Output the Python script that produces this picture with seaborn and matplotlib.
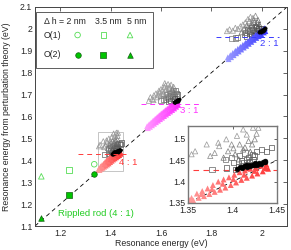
import numpy as np
import pandas as pd
import matplotlib as mpl
mpl.use('Agg')
import matplotlib.pyplot as plt
from matplotlib.patches import Rectangle
import seaborn as sns

sns.set_style('white')
plt.rcParams['font.family'] = ['Liberation Sans', 'DejaVu Sans']
plt.rcParams['font.size'] = 6.3

# ---- data ----
# 4:1 rods (also shown in the inset)
r41_x = [1.354, 1.360, 1.366, 1.372, 1.378, 1.384, 1.390, 1.396, 1.402, 1.408, 1.414, 1.420, 1.426, 1.432, 1.438,
         1.356, 1.362, 1.368, 1.374, 1.380, 1.386, 1.392, 1.398, 1.404, 1.410, 1.416, 1.422, 1.428, 1.434, 1.440,
         1.365, 1.377, 1.389, 1.401, 1.413, 1.425, 1.437, 1.352]
r41_y = [1.362, 1.372, 1.378, 1.384, 1.392, 1.400, 1.405, 1.410, 1.416, 1.422, 1.426, 1.430, 1.433, 1.437, 1.440,
         1.356, 1.362, 1.366, 1.371, 1.376, 1.381, 1.386, 1.392, 1.398, 1.404, 1.409, 1.414, 1.419, 1.424, 1.430,
         1.371, 1.383, 1.395, 1.406, 1.416, 1.425, 1.434, 1.357]
k41_x = [1.405, 1.408, 1.411, 1.413, 1.415, 1.416, 1.418, 1.420, 1.422, 1.424, 1.425, 1.426, 1.428, 1.430, 1.432, 1.434, 1.436, 1.437]
k41_y = [1.430, 1.433, 1.431, 1.436, 1.440, 1.434, 1.438, 1.436, 1.440, 1.438, 1.444, 1.442, 1.440, 1.444, 1.442, 1.446, 1.447, 1.449]
t41_x = [1.354, 1.358, 1.371, 1.384, 1.385, 1.380, 1.375, 1.393, 1.399, 1.405, 1.412, 1.423, 1.429, 1.418, 1.425,
         1.412, 1.408, 1.403, 1.395, 1.416, 1.422, 1.390, 1.407, 1.414, 1.420, 1.401, 1.427]
t41_y = [1.464, 1.471, 1.487, 1.491, 1.483, 1.467, 1.460, 1.499, 1.487, 1.507, 1.522, 1.526, 1.526, 1.495, 1.499,
         1.475, 1.487, 1.464, 1.471, 1.510, 1.487, 1.456, 1.452, 1.480, 1.470, 1.478, 1.512]
s41_x = [1.377, 1.393, 1.392, 1.401, 1.403, 1.408, 1.414, 1.418, 1.422, 1.427, 1.433, 1.438, 1.444, 1.412, 1.407,
         1.416, 1.423, 1.399, 1.419, 1.425, 1.410]
s41_y = [1.428, 1.432, 1.452, 1.444, 1.428, 1.461, 1.467, 1.456, 1.464, 1.471, 1.475, 1.471, 1.479, 1.444, 1.436,
         1.452, 1.452, 1.456, 1.446, 1.460, 1.450]

# 3:1 rods
m31_x = [1.545, 1.553, 1.561, 1.569, 1.577, 1.585, 1.593, 1.601, 1.609, 1.617, 1.625, 1.633, 1.641, 1.649, 1.657, 1.665,
         1.548, 1.556, 1.564, 1.572, 1.580, 1.588, 1.596, 1.604, 1.612, 1.620, 1.628, 1.636, 1.644, 1.652, 1.660, 1.668]
m31_y = [1.556, 1.565, 1.573, 1.582, 1.590, 1.598, 1.606, 1.614, 1.621, 1.629, 1.636, 1.643, 1.650, 1.657, 1.664, 1.670,
         1.547, 1.553, 1.560, 1.567, 1.574, 1.581, 1.588, 1.595, 1.602, 1.609, 1.616, 1.623, 1.630, 1.637, 1.645, 1.653]
k31_x = [1.650, 1.654, 1.657, 1.660, 1.662, 1.665, 1.667, 1.669, 1.671]
k31_y = [1.664, 1.668, 1.666, 1.671, 1.669, 1.674, 1.672, 1.677, 1.680]
t31_x = [1.552, 1.558, 1.565, 1.572, 1.580, 1.588, 1.595, 1.600, 1.606, 1.612, 1.618, 1.622, 1.628, 1.634, 1.640,
         1.645, 1.650, 1.585, 1.598, 1.610, 1.625, 1.638, 1.570, 1.615, 1.605, 1.620, 1.632, 1.592]
t31_y = [1.672, 1.688, 1.680, 1.697, 1.705, 1.700, 1.712, 1.725, 1.718, 1.735, 1.742, 1.728, 1.748, 1.738, 1.745,
         1.725, 1.735, 1.688, 1.695, 1.705, 1.712, 1.715, 1.675, 1.752, 1.700, 1.722, 1.728, 1.718]
s31_x = [1.600, 1.610, 1.618, 1.625, 1.632, 1.638, 1.644, 1.650, 1.655, 1.660, 1.664, 1.630, 1.645, 1.652, 1.640,
         1.658, 1.622, 1.635, 1.648]
s31_y = [1.672, 1.680, 1.676, 1.688, 1.684, 1.695, 1.690, 1.700, 1.694, 1.706, 1.698, 1.670, 1.710, 1.682, 1.674,
         1.716, 1.698, 1.705, 1.720]

# 2:1 rods
b21_x = [1.865, 1.875, 1.885, 1.895, 1.905, 1.915, 1.925, 1.935, 1.945, 1.955, 1.965, 1.975, 1.985, 1.995, 2.005, 2.012,
         1.868, 1.878, 1.888, 1.898, 1.908, 1.918, 1.928, 1.938, 1.948, 1.958, 1.968, 1.978, 1.988, 1.998, 2.008, 2.014]
b21_y = [1.870, 1.880, 1.890, 1.900, 1.909, 1.918, 1.927, 1.936, 1.945, 1.954, 1.963, 1.972, 1.981, 1.989, 1.997, 2.003,
         1.862, 1.871, 1.880, 1.889, 1.897, 1.906, 1.915, 1.923, 1.932, 1.941, 1.950, 1.959, 1.967, 1.975, 1.984, 1.990]
k21_x = [1.990, 1.994, 1.998, 2.001, 2.004, 2.007, 2.010, 2.013]
k21_y = [1.986, 1.990, 1.988, 1.993, 1.991, 1.996, 1.998, 2.002]
t21_x = [1.862, 1.872, 1.885, 1.895, 1.905, 1.915, 1.925, 1.935, 1.945, 1.955, 1.965, 1.975, 1.985, 1.950, 1.960,
         1.970, 1.940, 1.930, 1.920, 1.978, 1.990, 1.945, 1.958, 1.968, 1.982]
t21_y = [1.990, 1.998, 1.992, 2.005, 2.000, 2.012, 2.020, 2.030, 2.045, 2.055, 2.050, 2.060, 2.040, 2.035, 2.025,
         2.030, 2.015, 2.000, 1.985, 2.015, 2.020, 2.008, 2.012, 2.040, 2.030]
s21_x = [1.880, 1.895, 1.905, 1.930, 1.940, 1.950, 1.958, 1.966, 1.974, 1.982, 1.990, 1.998, 1.945, 1.960, 1.975,
         1.988, 1.935, 1.970, 1.952, 1.964, 1.980]
s21_y = [1.955, 1.958, 1.962, 1.975, 1.968, 1.980, 1.972, 1.985, 1.978, 1.992, 1.985, 2.000, 1.995, 2.005, 2.010,
         2.002, 1.985, 1.970, 1.990, 1.998, 2.005]

# rippled rod (4:1), Delta h = 2, 3.5, 5 nm
rip_x = [1.335, 1.235, 1.125]
rip_o1 = [1.382, 1.355, 1.327]
rip_o2 = [1.336, 1.242, 1.136]
rip_markers = ['o', 's', '^']
dh_labels = ['2 nm', '3.5 nm', '5 nm']

# aspect ratio reference lines
ratio_labels = ['2 : 1', '3 : 1', '4 : 1']
ratio_colors = ['#3a3aff', '#ff30ff', '#ff3b3b']
ratio_light = ['#9a9aff', '#ff9aff', '#ff9a9a']
ratio_line_y = [1.962, 1.658, 1.427]
ratio_line_x0 = [1.82, 1.52, 1.27]
ratio_line_x1 = [2.07, 1.76, 1.46]
ratio_text_x = [2.03, 1.71, 1.47]
ratio_text_y = [1.935, 1.628, 1.392]

inset_xlim = (1.35, 1.45)
inset_ylim = (1.35, 1.53)

groups = [
    (b21_x, b21_y, k21_x, k21_y, t21_x, t21_y, s21_x, s21_y),
    (m31_x, m31_y, k31_x, k31_y, t31_x, t31_y, s31_x, s31_y),
    (r41_x, r41_y, k41_x, k41_y, t41_x, t41_y, s41_x, s41_y),
]

grays = sns.blend_palette(['0.25', '0.62'], as_cmap=True)


def hollow(ax):
    # turn the last scatter into open markers keeping its colours
    coll = ax.collections[-1]
    fc = coll.get_facecolors()
    coll.set_facecolor('none')
    coll.set_edgecolor(fc)
    coll.set_linewidth(0.55)


def draw_group(ax, g, i, ms, kms):
    bx, by, kx, ky, tx, ty, sx, sy = g
    for px, py, mk in [(tx, ty, '^'), (sx, sy, 's')]:
        d = pd.DataFrame({'x': px, 'y': py})
        d['offset'] = d['y'] - d['x']
        sns.scatterplot(data=d, x='x', y='y', hue='offset', palette=grays, hue_norm=(0.0, 0.1),
                        marker=mk, s=ms, legend=False, ax=ax)
        hollow(ax)
    d = pd.DataFrame({'x': bx, 'y': by})
    pal = sns.blend_palette([ratio_light[i], ratio_colors[i]], as_cmap=True)
    sns.scatterplot(data=d, x='x', y='y', hue='x', palette=pal, marker='^', s=ms * 1.3,
                    linewidth=0, legend=False, ax=ax)
    sns.scatterplot(x=kx, y=ky, color='k', marker='o', s=kms, edgecolor='k',
                    linewidth=0.4, legend=False, ax=ax)


fig = plt.figure(figsize=(2.91, 2.5), dpi=100)
ax = fig.add_axes([0.1203, 0.096, 0.866, 0.876])

diag = [1.1, 2.1]
ax.plot(diag, diag, color='k', lw=0.6, ls=(0, (5, 4)), zorder=1)

for i, g in enumerate(groups):
    draw_group(ax, g, i, 14, 6)
    ax.hlines(ratio_line_y[i], ratio_line_x0[i], ratio_line_x1[i], colors=ratio_colors[i],
              lw=0.7, linestyles=(0, (5, 4)), zorder=1)
    ax.text(ratio_text_x[i], ratio_text_y[i], ratio_labels[i], color=ratio_colors[i],
            ha='center', va='center', fontsize=6.8)

# rippled rod
for j in range(3):
    ax.scatter(rip_x[j], rip_o1[j], marker=rip_markers[j], s=16, facecolor='none',
               edgecolor='#55dd55', linewidth=0.6, zorder=3)
    ax.scatter(rip_x[j], rip_o2[j], marker=rip_markers[j], s=16, facecolor='#00c400',
               edgecolor='#126012', linewidth=0.5, zorder=3)
ax.text(1.34, 1.156, 'Rippled rod (4 : 1)', color='#22cc22', ha='center', va='center', fontsize=6.8)

# inset marker box
ax.add_patch(Rectangle((inset_xlim[0], inset_ylim[0]), inset_xlim[1] - inset_xlim[0],
                       inset_ylim[1] - inset_ylim[0], fill=False, ec='#bbbbbb', lw=0.6, zorder=0))

ax.set_xlim(1.1, 2.1)
ax.set_ylim(1.1, 2.1)
ax.set_xticks([1.2, 1.4, 1.6, 1.8, 2.0])
ax.set_xticklabels(['1.2', '1.4', '1.6', '1.8', '2'])
ax.set_yticks([1.1, 1.2, 1.3, 1.4, 1.5, 1.6, 1.7, 1.8, 1.9, 2.0, 2.1])
ax.set_yticklabels(['1.1', '1.2', '1.3', '1.4', '1.5', '1.6', '1.7', '1.8', '1.9', '2', '2.1'])
ax.tick_params(direction='in', length=3, width=0.5, top=True, right=True, labelsize=6.3, pad=2)
ax.set_xlabel('Resonance energy (eV)', fontsize=6.3)
ax.set_ylabel('Resonance energy from perturbation theory (eV)', fontsize=6.3)
ax.xaxis.set_label_coords(0.5, -0.058)
ax.yaxis.set_label_coords(-0.095, 0.5)
for sp in ax.spines.values():
    sp.set_color('#444444')
    sp.set_linewidth(0.7)

# legend box drawn by hand in axes coordinates
ax.add_patch(Rectangle((0.004, 0.721), 0.464, 0.256, transform=ax.transAxes, fill=False,
                       ec='#444444', lw=0.6, zorder=4))
ax.text(0.035, 0.936, '\u0394 h = 2 nm', transform=ax.transAxes, va='center', fontsize=6.3)
ax.text(0.29, 0.936, dh_labels[1], transform=ax.transAxes, va='center', ha='center', fontsize=6.3)
ax.text(0.405, 0.936, dh_labels[2], transform=ax.transAxes, va='center', ha='center', fontsize=6.3)
ax.text(0.035, 0.872, 'O(1)', transform=ax.transAxes, va='center', fontsize=6.3)
ax.text(0.035, 0.781, 'O(2)', transform=ax.transAxes, va='center', fontsize=6.3)
leg_x = [0.169, 0.271, 0.377]
for j in range(3):
    ax.scatter(leg_x[j], 0.872, marker=rip_markers[j], s=16, facecolor='none', edgecolor='#55dd55',
               linewidth=0.6, transform=ax.transAxes, zorder=5)
    ax.scatter(leg_x[j], 0.781, marker=rip_markers[j], s=16, facecolor='#00c400', edgecolor='#126012',
               linewidth=0.5, transform=ax.transAxes, zorder=5)

# inset
axin = fig.add_axes([0.646, 0.188, 0.306, 0.308])
axin.set_facecolor('white')
axin.plot(diag, diag, color='k', lw=0.6, ls=(0, (5, 4)), zorder=1)
axin.hlines(ratio_line_y[2], 1.3, 1.5, colors=ratio_colors[2], lw=0.8, linestyles=(0, (5, 4)), zorder=1)
draw_group(axin, groups[2], 2, 14, 12)
axin.set_xlim(*inset_xlim)
axin.set_ylim(*inset_ylim)
axin.set_xticks([1.35, 1.4, 1.45])
axin.set_xticklabels(['1.35', '1.4', '1.45'])
axin.set_yticks([1.35, 1.4, 1.45, 1.5])
axin.set_yticklabels(['1.35', '1.4', '1.45', '1.5'])
axin.set_xlabel('')
axin.set_ylabel('')
axin.tick_params(direction='in', length=2.5, width=0.5, top=True, right=True, labelsize=6.3)
axin.tick_params(axis='x', pad=2.5)
axin.tick_params(axis='y', pad=1.5)
for sp in axin.spines.values():
    sp.set_color('#777777')
    sp.set_linewidth(1.0)

fig.savefig('out.png', dpi=100)
